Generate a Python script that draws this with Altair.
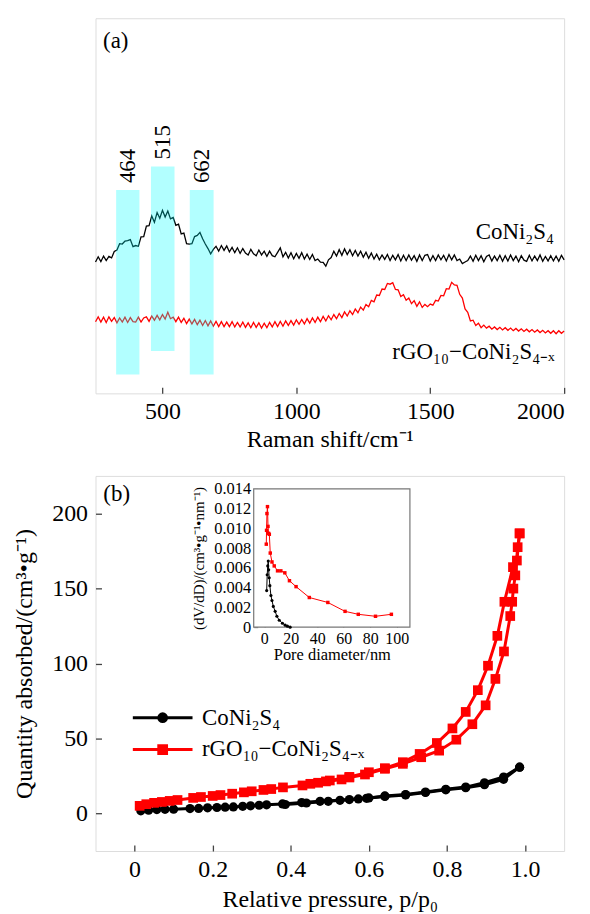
import altair as alt
import pandas as pd

FONT = "Liberation Serif"

# ---------------- (a) Raman spectra ----------------
raman_shift = list(range(250, 2001, 10))
raman_coni2s4 = [
    35.0, 36.4, 35.1, 36.6, 35.4, 36.5, 36.1, 37.8, 38.2, 39.9,
    39.8, 40.6, 40.7, 41.0, 39.1, 39.4, 39.2, 41.7, 41.8, 44.6,
    44.7, 47.3, 45.6, 48.2, 46.7, 48.8, 47.0, 48.6, 46.5, 46.9,
    44.8, 45.1, 42.5, 42.7, 39.9, 39.8, 39.9, 41.8, 42.1, 42.9,
    41.2, 39.8, 38.6, 37.2, 38.4, 39.2, 37.9, 39.4, 38.1, 39.3,
    37.7, 38.9, 37.5, 38.8, 37.3, 38.6, 37.4, 36.9, 38.4, 37.2,
    36.7, 38.2, 36.9, 37.9, 36.5, 37.9, 36.7, 36.4, 37.6, 38.8,
    36.4, 37.6, 36.1, 37.5, 35.9, 37.3, 36.0, 37.5, 35.8, 37.1,
    35.7, 37.0, 35.4, 35.8, 35.0, 34.9, 33.9, 35.6, 36.2, 37.9,
    36.6, 38.3, 36.8, 38.5, 37.0, 38.3, 36.7, 38.1, 36.6, 37.9,
    36.3, 37.6, 36.0, 37.4, 35.8, 37.1, 35.6, 36.9, 35.7, 37.0,
    35.4, 36.8, 35.6, 37.0, 35.3, 36.8, 35.4, 36.9, 35.5, 36.7,
    35.2, 36.9, 35.4, 36.8, 37.0, 35.3, 36.7, 35.4, 36.9, 35.6,
    36.8, 35.3, 37.0, 35.6, 36.9, 35.4, 35.8, 34.6, 35.0, 35.4,
    36.6, 35.2, 36.8, 35.4, 36.7, 35.1, 36.5, 36.9, 35.3, 36.6,
    35.4, 36.8, 35.2, 36.7, 35.3, 36.9, 35.4, 36.6, 35.1, 36.7,
    35.5, 35.2, 36.8, 35.3, 36.6, 35.4, 36.9, 35.2, 36.5, 35.3,
    36.7, 35.3, 36.6, 35.2, 36.8, 35.6,
]
raman_rgo = [
    19.1, 20.4, 19.0, 20.3, 18.9, 20.4, 19.2, 20.2, 18.8, 20.1,
    19.0, 20.3, 18.9, 20.2, 19.1, 19.0, 20.3, 19.0, 20.1, 20.4,
    19.2, 20.6, 19.5, 20.8, 19.6, 21.0, 19.8, 21.6, 19.9, 20.3,
    19.1, 20.3, 18.9, 20.0, 18.6, 19.8, 18.5, 19.7, 18.3, 19.5,
    18.1, 19.4, 18.0, 19.3, 17.9, 19.2, 17.8, 19.1, 17.8, 19.0,
    17.8, 19.1, 17.7, 18.9, 17.7, 19.0, 17.6, 18.8, 17.5, 18.9,
    17.6, 18.8, 17.4, 18.7, 17.5, 18.9, 17.7, 19.1, 17.8, 19.2,
    17.9, 19.3, 18.1, 19.4, 18.2, 19.6, 18.4, 19.7, 18.5, 19.9,
    18.7, 20.1, 18.9, 20.3, 19.1, 20.5, 19.3, 20.7, 19.6, 21.0,
    19.9, 21.3, 20.2, 21.7, 20.6, 22.0, 21.0, 22.5, 21.5, 23.0,
    22.2, 23.7, 23.1, 24.8, 24.4, 26.2, 26.1, 27.8, 27.7, 29.3,
    29.1, 29.5, 27.7, 27.6, 25.8, 26.3, 24.8, 25.4, 23.9, 24.7,
    23.2, 24.4, 22.9, 23.7, 23.1, 23.8, 23.5, 24.8, 24.6, 26.1,
    26.0, 27.9, 27.8, 29.6, 28.9, 28.8, 26.4, 25.4, 22.5, 21.6,
    19.3, 19.5, 18.1, 18.7, 17.5, 18.2, 17.4, 17.9, 17.1, 17.7,
    17.0, 17.6, 16.9, 17.5, 16.8, 17.4, 16.7, 17.3, 16.6, 17.2,
    16.5, 17.1, 16.4, 17.0, 16.3, 16.9, 16.2, 16.8, 16.1, 16.7,
    16.0, 16.7, 15.9, 16.7, 16.0, 16.6,
]

series_names = ["CoNi\u2082S\u2084", "rGO\u2081\u2080\u2212CoNi\u2082S\u2084\u208b\u2093"]
series_colors = ["#000000", "#ff0000"]

band_labels = ["464", "515", "662"]
band_lo = [327, 457, 602]
band_hi = [414, 545, 691]
band_bottom = [5.0, 11.3, 5.0]
band_top = [54.2, 60.5, 54.2]

raman_label_x = [1962, 1965]
raman_label_y = [43.0, 11.0]

# ---------------- (b) N2 isotherms ----------------
black_ads_p = [0.016, 0.036, 0.057, 0.078, 0.100, 0.142, 0.164, 0.187, 0.211, 0.232,
               0.253, 0.277, 0.297, 0.319, 0.338, 0.379, 0.428, 0.475, 0.526, 0.573,
               0.600, 0.641, 0.694, 0.745, 0.797, 0.848, 0.896, 0.945, 0.986]
black_ads_q = [1.8, 2.2, 2.6, 2.8, 2.9, 3.3, 3.4, 3.8, 4.0, 4.2,
               4.4, 4.8, 5.1, 5.5, 5.8, 6.4, 7.3, 8.1, 8.8, 9.7,
               10.4, 11.7, 12.6, 14.3, 16.1, 17.6, 20.5, 24.3, 30.9]
black_des_p = [0.986, 0.945, 0.896, 0.848, 0.797, 0.745, 0.694, 0.641, 0.594, 0.550,
               0.496, 0.440, 0.386]
black_des_q = [30.9, 22.8, 19.2, 17.2, 15.8, 14.0, 12.4, 11.4, 10.1, 9.3,
               8.1, 7.0, 6.0]
red_ads_p = [0.013, 0.030, 0.050, 0.070, 0.090, 0.110, 0.150, 0.170, 0.200, 0.220,
             0.250, 0.280, 0.300, 0.330, 0.350, 0.380, 0.430, 0.470, 0.490, 0.530,
             0.550, 0.590, 0.641, 0.687, 0.734, 0.780, 0.824, 0.865, 0.899, 0.924,
             0.946, 0.962, 0.967, 0.970, 0.975, 0.981, 0.986]
red_ads_q = [5.1, 6.2, 7.1, 7.7, 8.4, 9.0, 10.4, 11.0, 11.7, 12.3,
             13.2, 14.1, 14.8, 15.7, 16.3, 17.4, 18.7, 20.5, 21.4, 22.7,
             24.0, 26.0, 29.8, 33.1, 37.5, 41.9, 49.2, 59.5, 72.1, 89.7,
             108.0, 131.6, 141.1, 149.9, 158.7, 177.5, 186.7]
red_des_p = [0.986, 0.979, 0.969, 0.947, 0.929, 0.905, 0.879, 0.848, 0.814, 0.774,
             0.730, 0.687, 0.641, 0.600, 0.550, 0.500, 0.450]
red_des_q = [186.7, 168.6, 164.2, 141.1, 118.4, 98.5, 82.2, 67.7, 56.7, 47.0,
             39.7, 34.2, 30.2, 27.5, 24.4, 22.0, 19.8]

# inset: pore size distribution
inset_red_d = [1.5, 1.7, 2.0, 2.4, 2.8, 3.2, 3.8, 4.5, 5.8, 7.5,
               10.0, 12.5, 15.5, 19.0, 24.0, 34.0, 48.0, 61.0, 71.0, 84.0, 96.0]
inset_red_v = [0.0084, 0.0098, 0.0115, 0.0122, 0.0102, 0.0095, 0.0094, 0.0075, 0.0066, 0.0062,
               0.0057, 0.0057, 0.0055, 0.0047, 0.0041, 0.0030, 0.0025, 0.0016, 0.0013, 0.0011, 0.0013]
inset_black_d = [1.8, 2.2, 2.6, 3.0, 3.3, 3.7, 4.2, 5.0, 5.8, 6.8,
                 8.2, 9.5, 11.3, 13.7, 15.8, 17.5, 19.5]
inset_black_v = [0.0037, 0.0053, 0.0062, 0.0067, 0.0058, 0.0050, 0.0042, 0.0032, 0.0027, 0.0021,
                 0.0016, 0.0011, 0.0007, 0.0004, 0.0002, 0.0001, 0.0]

inset_x_domain = [-8, 110]
inset_y_domain = [0, 0.014]

# ---------------- layout constants ----------------
W, H = 471, 377
TICK = 6
AXIS_GRAY = "#444444"
FS_TICK = 24
FS_TITLE = 24
FS_TEXT = 23


def main_axis(**kw):
    base = dict(domain=False, grid=False, tickSize=TICK, offset=-TICK,
                tickColor=AXIS_GRAY, tickWidth=1.3,
                labelFont=FONT, labelFontSize=FS_TICK, labelColor="black", labelPadding=7,
                titleFont=FONT, titleFontSize=FS_TITLE, titleFontWeight="normal",
                titleColor="black")
    base.update(kw)
    return alt.Axis(**base)


# ================= panel (a) =================
raman_black = pd.DataFrame({"shift": raman_shift, "I": raman_coni2s4})
raman_red = pd.DataFrame({"shift": raman_shift, "I": raman_rgo})
band_df = pd.DataFrame({"label": band_labels, "lo": band_lo, "hi": band_hi,
                        "bottom": band_bottom, "top": band_top})
band_df["center"] = (band_df["lo"] + band_df["hi"]) / 2
rlab_df = pd.DataFrame({"name": series_names, "x": raman_label_x, "y": raman_label_y})
pa_df = pd.DataFrame({"t": ["(a)"], "x": [278], "y": [94.0]})

xa_scale = alt.Scale(domain=[250, 2000], nice=False, zero=False)
ya_scale = alt.Scale(domain=[0, 100], nice=False, zero=False)
xa_axis = main_axis(values=[500, 1000, 1500, 2000], format="d",
                    title="Raman shift/cm\u207b\u00b9", titlePadding=4, labelPadding=6)


def XA(field):
    return alt.X(field, type="quantitative", scale=xa_scale, axis=xa_axis)


def YA(field):
    return alt.Y(field, type="quantitative", scale=ya_scale, axis=None)


raman_l1 = alt.Chart(raman_black).mark_line(color="black", strokeWidth=1.3).encode(x=XA("shift"), y=YA("I"))
raman_l2 = alt.Chart(raman_red).mark_line(color="red", strokeWidth=1.3).encode(x=XA("shift"), y=YA("I"))
bands = alt.Chart(band_df).mark_rect(color="#00ffff", opacity=0.3).encode(
    x=XA("lo"), x2="hi", y=YA("bottom"), y2="top")
band_text = alt.Chart(band_df).mark_text(angle=270, align="left", baseline="middle", dx=7,
                                         font=FONT, fontSize=23, color="black").encode(
    x=XA("center"), y=YA("top"), text="label:N")
raman_names = alt.Chart(rlab_df).mark_text(align="right", baseline="middle",
                                           font=FONT, fontSize=FS_TEXT, color="black").encode(
    x=XA("x"), y=YA("y"), text="name:N")
panel_a = alt.Chart(pa_df).mark_text(align="left", baseline="middle", font=FONT,
                                     fontSize=FS_TEXT, color="black").encode(
    x=XA("x"), y=YA("y"), text="t:N")

top = alt.layer(raman_l1, raman_l2, bands, band_text, raman_names, panel_a).properties(width=W, height=H)

# ================= panel (b) =================
black_iso = pd.concat([
    pd.DataFrame({"p": black_ads_p, "q": black_ads_q, "branch": "ads"}),
    pd.DataFrame({"p": black_des_p, "q": black_des_q, "branch": "des"}),
])
red_iso = pd.concat([
    pd.DataFrame({"p": red_ads_p, "q": red_ads_q, "branch": "ads"}),
    pd.DataFrame({"p": red_des_p, "q": red_des_q, "branch": "des"}),
])
pb_df = pd.DataFrame({"t": ["(b)"], "p": [-0.08], "q": [213]})

xb_scale = alt.Scale(domain=[-0.1, 1.1], nice=False, zero=False)
yb_scale = alt.Scale(domain=[-25, 225], nice=False, zero=False)
xb_axis = main_axis(values=[0, 0.2, 0.4, 0.6, 0.8, 1.0],
                    labelExpr="datum.value == 0 ? '0' : format(datum.value, '.1f')",
                    title="Relative pressure, p/p\u2080", titlePadding=6)
yb_axis = main_axis(values=[0, 50, 100, 150, 200], labelPadding=8,
                    title="Quantity absorbed/(cm\u00b3\u2022g\u207b\u00b9)", titlePadding=15)
xb = alt.X("p:Q", scale=xb_scale, axis=xb_axis)
yb = alt.Y("q:Q", scale=yb_scale, axis=yb_axis)

bl_line = alt.Chart(black_iso).mark_line(color="black", strokeWidth=3).encode(x=xb, y=yb, detail="branch:N")
rd_line = alt.Chart(red_iso).mark_line(color="red", strokeWidth=3).encode(x=xb, y=yb, detail="branch:N")
bl_pts = alt.Chart(black_iso).mark_point(shape="circle", filled=True, size=85, color="black", opacity=1).encode(x=xb, y=yb)
rd_pts = alt.Chart(red_iso).mark_point(shape="square", filled=True, size=95, color="red", opacity=1).encode(x=xb, y=yb)
panel_b = alt.Chart(pb_df).mark_text(align="left", baseline="middle", font=FONT,
                                     fontSize=FS_TEXT, color="black").encode(x=xb, y=yb, text="t:N")

circ_path = ("M-1,0L1,0M0.13,0A0.13,0.13,0,1,1,-0.13,0A0.13,0.13,0,1,1,0.13,0Z"
             "M0.05,0A0.05,0.05,0,1,1,-0.05,0A0.05,0.05,0,1,1,0.05,0Z")
sq_path = ("M-1,0L1,0M-0.13,-0.13L0.13,-0.13L0.13,0.13L-0.13,0.13Z"
           "M-0.05,-0.05L0.05,-0.05L0.05,0.05L-0.05,0.05Z")
leg = alt.Legend(title=None, orient="none", legendX=36, legendY=228,
                 symbolSize=3600, symbolStrokeWidth=3, symbolOpacity=1,
                 labelFont=FONT, labelFontSize=FS_TEXT, labelColor="black", labelLimit=400,
                 labelOffset=8, clipHeight=30, rowPadding=2, padding=0)
legend_layer = alt.Chart(pd.DataFrame({"series": series_names})).mark_point(
    filled=False, opacity=0, strokeWidth=3).encode(
    color=alt.Color("series:N", scale=alt.Scale(domain=series_names, range=series_colors), legend=leg),
    shape=alt.Shape("series:N", scale=alt.Scale(domain=series_names, range=[circ_path, sq_path]), legend=leg),
)

main_b = alt.layer(bl_line, rd_line, bl_pts, rd_pts, panel_b, legend_layer)

# ---- inset ----
IX0, IX1, IY0, IY1 = 159, 316, 152, 13
ITICK = 4
black_psd = pd.DataFrame({"D": inset_black_d, "V": inset_black_v})
red_psd = pd.DataFrame({"D": inset_red_d, "V": inset_red_v})
ix_scale = alt.Scale(domain=inset_x_domain, range=[IX0, IX1], nice=False, zero=False)
iy_scale = alt.Scale(domain=inset_y_domain, range=[IY0, IY1], nice=False, zero=False)
ix_axis = alt.Axis(orient="bottom", values=[0, 20, 40, 60, 80, 100], title="Pore diameter/nm",
                   domain=False, grid=False, tickSize=ITICK, offset=-(H - IY0) - ITICK,
                   tickColor="#666666", tickWidth=1,
                   labelFont=FONT, labelFontSize=16, labelColor="black", labelPadding=3,
                   labelOverlap=False,
                   titleFont=FONT, titleFontSize=16.5, titleFontWeight="normal", titleColor="black",
                   titlePadding=1)
iy_axis = alt.Axis(orient="left", values=[0, 0.002, 0.004, 0.006, 0.008, 0.010, 0.012, 0.014],
                   labelExpr="datum.value == 0 ? '0' : format(datum.value, '.3f')",
                   title="(dV/dD)/(cm\u00b3\u2022g\u207b\u00b9\u2022nm\u207b\u00b9)",
                   domain=False, grid=False, tickSize=ITICK, offset=-IX0 - ITICK,
                   tickColor="#666666", tickWidth=1,
                   labelFont=FONT, labelFontSize=16.5, labelColor="black", labelPadding=3,
                   titleFont=FONT, titleFontSize=15, titleFontWeight="normal", titleColor="black",
                   titlePadding=7)
ix = alt.X("D:Q", scale=ix_scale, axis=ix_axis)
iy = alt.Y("V:Q", scale=iy_scale, axis=iy_axis)

box_df = pd.DataFrame({"D": [inset_x_domain[0]], "D2": [inset_x_domain[1]],
                       "V": [inset_y_domain[0]], "V2": [inset_y_domain[1]]})
inset_box = alt.Chart(box_df).mark_rect(fill="white", stroke="#777777", strokeWidth=1.2).encode(
    x=ix, x2="D2:Q", y=iy, y2="V2:Q")
ib_line = alt.Chart(black_psd).mark_line(color="black", strokeWidth=1).encode(x=ix, y=iy)
ir_line = alt.Chart(red_psd).mark_line(color="red", strokeWidth=1).encode(x=ix, y=iy)
ib_pts = alt.Chart(black_psd).mark_point(shape="circle", filled=True, size=10, color="black", opacity=1).encode(x=ix, y=iy)
ir_pts = alt.Chart(red_psd).mark_point(shape="square", filled=True, size=12, color="red", opacity=1).encode(x=ix, y=iy)

inset = alt.layer(inset_box, ib_line, ir_line, ib_pts, ir_pts)

bottom = alt.layer(main_b, inset).resolve_scale(x="independent", y="independent").properties(
    width=W, height=H)

chart = alt.vconcat(top, bottom, spacing=83, bounds="flush").resolve_scale(
    color="independent", shape="independent").resolve_legend(
    color="independent", shape="independent").properties(
    padding={"left": 12, "top": 15, "right": 22, "bottom": 5},
    background="white",
).configure_view(stroke=AXIS_GRAY, strokeWidth=1.5).configure(font=FONT)

chart.save("out.html", embed_options={"renderer": "svg", "actions": False})
